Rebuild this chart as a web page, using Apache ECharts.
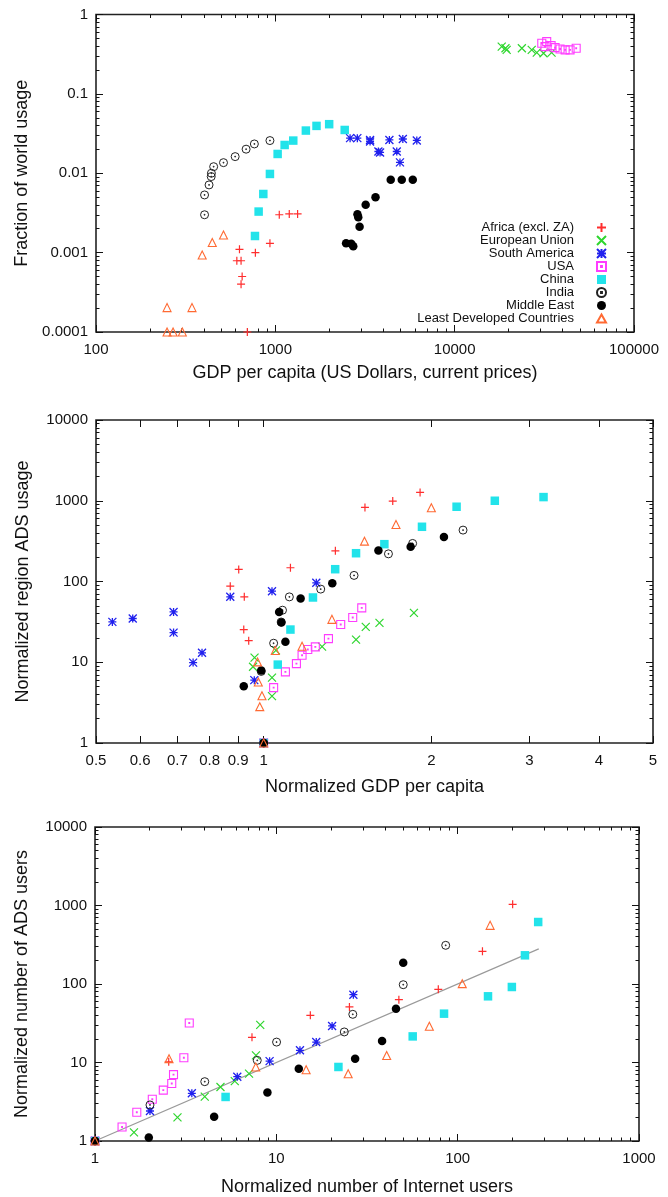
<!DOCTYPE html>
<html>
<head>
<meta charset="utf-8">
<script src="https://cdn.jsdelivr.net/npm/echarts@6/dist/echarts.min.js"></script>
<style>
  html, body { margin: 0; padding: 0; background: #fff; }
  #chart { width: 668px; height: 1197px; }
</style>
</head>
<body>
<div id="chart"></div>
<script>
// ---- panel 1: GDP per capita vs fraction of world usage ----
const p1Africa = [[631, 0.0011], [610, 0.00079], [644, 0.00079], [653, 0.0005], [644, 0.0004], [774, 0.001], [933, 0.00131], [1052, 0.003], [1196, 0.00307], [1331, 0.00307], [698, 0.0001]];
const p1EU = [[18300, 0.394], [19200, 0.376], [19500, 0.358], [23700, 0.376], [26900, 0.358], [28700, 0.331], [31300, 0.325], [34700, 0.331]];
const p1SA = [[2611, 0.0277], [2866, 0.0277], [3375, 0.0263], [3375, 0.0251], [3756, 0.0188], [3837, 0.0183], [4325, 0.0263], [4755, 0.0188], [4955, 0.0137], [5140, 0.027], [6150, 0.0259]];
const p1USA = [[30600, 0.434], [31900, 0.394], [32600, 0.455], [34500, 0.405], [36300, 0.382], [38700, 0.368], [41300, 0.358], [44000, 0.358], [47600, 0.375]];
const p1China = [[770, 0.00162], [807, 0.00329], [857, 0.00548], [933, 0.0098], [1030, 0.0175], [1127, 0.0227], [1259, 0.0258], [1480, 0.0345], [1697, 0.0395], [1996, 0.0415], [2437, 0.0351]];
const p1India = [[403, 0.003], [403, 0.00533], [427, 0.00713], [439, 0.00908], [440, 0.01], [453, 0.0121], [514, 0.0136], [597, 0.0162], [687, 0.0201], [764, 0.0234], [933, 0.0258]];
const p1ME = [[2480, 0.00131], [2650, 0.00129], [2720, 0.0012], [2870, 0.00305], [2900, 0.0028], [2950, 0.00212], [3190, 0.004], [3620, 0.005], [4400, 0.0083], [5070, 0.0083], [5840, 0.0083]];
const p1LDC = [[249, 0.000203], [343, 0.000203], [249, 0.0001], [269, 0.0001], [303, 0.0001], [391, 0.000935], [445, 0.00134], [514, 0.00167]];

// ---- panel 2: normalized GDP per capita vs normalized ADS usage ----
const p2Africa = [[1, 1], [0.902, 141], [0.871, 87.5], [0.923, 64.6], [0.921, 25.4], [0.94, 18.5], [1.117, 148], [1.345, 240], [1.52, 826], [1.705, 991], [1.909, 1268]];
const p2EU = [[1, 1], [0.963, 11.4], [0.957, 8.8], [1.035, 6.45], [1.035, 3.8], [1.052, 14], [1.273, 15.6], [1.465, 19.1], [1.525, 27.4], [1.614, 30.7], [1.861, 40.9]];
const p2SA = [[1, 1], [0.535, 31.6], [0.582, 34.8], [0.689, 42], [0.689, 23.3], [0.747, 9.9], [0.775, 13.1], [0.871, 64.6], [0.962, 6.0], [1.035, 75.9], [1.243, 96.3]];
const p2USA = [[1, 1], [1.042, 4.85], [1.094, 7.59], [1.145, 9.62], [1.172, 12.2], [1.2, 14.4], [1.238, 15.5], [1.307, 19.6], [1.375, 29.3], [1.445, 35.8], [1.5, 47.2]];
const p2China = [[1, 1], [1.06, 9.35], [1.117, 25.4], [1.226, 63.4], [1.344, 142], [1.465, 224], [1.647, 290], [1.924, 476], [2.22, 843], [2.6, 1000], [3.18, 1110]];
const p2India = [[1, 1], [0.99, 7.7], [1.042, 17.2], [1.075, 31.5], [1.081, 44.1], [1.112, 64.5], [1.266, 80.5], [1.453, 119], [1.675, 220], [1.851, 296], [2.28, 433]];
const p2ME = [[1, 1], [0.921, 5.04], [0.99, 7.9], [1.066, 41.8], [1.076, 31], [1.094, 17.9], [1.165, 61.6], [1.328, 95], [1.607, 242], [1.836, 269], [2.107, 355]];
const p2LDC = [[1, 1], [0.975, 10.1], [0.978, 5.7], [0.993, 3.85], [0.984, 2.82], [1.049, 14], [1.172, 15.8], [1.326, 34], [1.517, 316], [1.728, 509], [2.0, 819]];

// ---- panel 3: normalized internet users vs normalized ADS users ----
const p3Africa = [[1, 1], [2.55, 10.2], [7.34, 20.9], [15.4, 39.9], [25.3, 51], [47.4, 63.1], [78.2, 85.5], [137, 261], [201, 1035]];
const p3EU = [[1, 1], [1.64, 1.29], [2.85, 2.0], [4.03, 3.68], [4.92, 4.87], [5.9, 5.8], [7.07, 7.2], [7.72, 12.3], [8.15, 30.2]];
const p3SA = [[1, 1], [2.01, 2.41], [3.42, 4.05], [6.09, 6.6], [9.18, 10.4], [13.5, 14.3], [16.6, 18.2], [20.3, 29.2], [26.6, 73.1]];
const p3USA = [[1, 1], [1.41, 1.51], [1.7, 2.32], [2.07, 3.4], [2.38, 4.45], [2.65, 5.4], [2.71, 7.0], [3.09, 11.5], [3.31, 31.9]];
const p3China = [[1, 1], [5.25, 3.64], [22, 8.77], [56.5, 21.5], [84.1, 41.9], [147, 69.7], [199, 91.6], [235, 232], [278, 616]];
const p3India = [[1, 1], [2.01, 2.88], [4.03, 5.7], [7.85, 10.65], [10.03, 18.2], [23.7, 24.5], [26.4, 41.1], [50.1, 98], [85.9, 311]];
const p3ME = [[1, 1], [1.98, 1.11], [4.54, 2.04], [8.93, 4.15], [13.3, 8.35], [27.2, 11.2], [38.3, 18.8], [45.7, 48.5], [50.1, 187]];
const p3LDC = [[1, 1], [2.56, 11.2], [7.7, 8.77], [14.6, 8.1], [24.9, 7.2], [40.6, 12.3], [69.8, 28.9], [106, 101], [151, 559]];
const p3Fit = [[1, 1], [280, 280]];

// ---- tick labels ----
const p1XTicks = [100, 1000, 10000, 100000];
const p1YTicks = [0.0001, 0.001, 0.01, 0.1, 1];
const p2XTicks = [0.5, 0.6, 0.7, 0.8, 0.9, 1, 2, 3, 4, 5];
const p2YTicks = [1, 10, 100, 1000, 10000];
const p3XTicks = [1, 10, 100, 1000];
const p3YTicks = [1, 10, 100, 1000, 10000];

const regionNames = ['Africa (excl. ZA)', 'European Union', 'South America', 'USA', 'China', 'India', 'Middle East', 'Least Developed Countries'];

const FONT = '"Liberation Sans", Arial, Helvetica, sans-serif';
const NONE = 'rgba(0,0,0,0)';

// gnuplot-like point types
const marks = [
  { symbol: 'path://M0,5L10,5M5,0L5,10', size: 8, fill: NONE, stroke: '#ff2e2e', bw: 1.2 },
  { symbol: 'path://M0,0L10,10M10,0L0,10', size: 8, fill: NONE, stroke: '#2ed62e', bw: 1.2 },
  { symbol: 'path://M0,0L10,10M10,0L0,10M5,0L5,10M0,5L10,5', size: 8, fill: NONE, stroke: '#2020ee', bw: 1.3 },
  { symbol: 'path://M0,0L10,0L10,10L0,10ZM4.5,4.5L5.5,4.5L5.5,5.5L4.5,5.5Z', size: 8, fill: NONE, stroke: '#ff3cff', bw: 1.1 },
  { symbol: 'rect', size: 8.5, fill: '#22e3ea', stroke: NONE, bw: 0 },
  { symbol: 'path://M10,5A5,5,0,1,1,0,5A5,5,0,1,1,10,5ZM4.5,4.5L5.5,4.5L5.5,5.5L4.5,5.5Z', size: 8, fill: NONE, stroke: '#222', bw: 1 },
  { symbol: 'circle', size: 8.5, fill: '#000', stroke: NONE, bw: 0 },
  { symbol: 'path://M5,0L10,9L0,9Z', size: 8, fill: NONE, stroke: '#ff6a33', bw: 1.1 }
];

function minorTicks(lo, hi) {
  const out = [];
  for (let p = lo; p < hi; p++) {
    for (let m = 2; m <= 9; m++) out.push(Number((m * Math.pow(10, p)).toPrecision(2)));
  }
  return out;
}

const xAxes = [];
const yAxes = [];
const tickLine = { color: '#111', width: 1 };
const labelStyle = { fontFamily: FONT, fontSize: 15, color: '#111' };
const nameStyle = { fontFamily: FONT, fontSize: 18, color: '#111' };

// builds main + mirrored + minor axes, returns index of main axis
function addAxes(list, dim, gridIndex, min, max, ticks, minor, name, nameGap) {
  const pos = dim === 'x' ? ['bottom', 'top'] : ['left', 'right'];
  const base = { type: 'log', logBase: 10, gridIndex, min, max, splitLine: { show: false }, axisLine: { show: false } };
  const mainIndex = list.length;
  list.push(Object.assign({}, base, {
    position: pos[0],
    name, nameLocation: 'middle', nameGap,
    nameRotate: dim === 'y' ? 90 : 0,
    nameTextStyle: nameStyle,
    axisLabel: { customValues: ticks, formatter: (v) => String(v), margin: dim === 'x' ? 10 : 8, ...labelStyle },
    axisTick: { customValues: ticks, inside: true, length: 7, lineStyle: tickLine }
  }));
  list.push(Object.assign({}, base, {
    position: pos[1],
    axisLabel: { show: false },
    axisTick: { customValues: ticks, inside: true, length: 7, lineStyle: tickLine }
  }));
  if (minor.length) {
    pos.forEach((p) => {
      list.push(Object.assign({}, base, {
        position: p,
        axisLabel: { show: false },
        axisTick: { customValues: minor, inside: true, length: 3.5, lineStyle: tickLine }
      }));
    });
  }
  return mainIndex;
}

const grids = [
  { left: 96, top: 14.5, width: 538, height: 317.5 },
  { left: 96, top: 420, width: 557, height: 323 },
  { left: 95, top: 827, width: 544, height: 314 }
].map((g) => Object.assign({ show: true, borderColor: '#222', borderWidth: 1.6, backgroundColor: NONE }, g));

const ax = [
  {
    x: addAxes(xAxes, 'x', 0, 100, 100000, p1XTicks, minorTicks(2, 5), 'GDP per capita (US Dollars, current prices)', 32),
    y: addAxes(yAxes, 'y', 0, 0.0001, 1, p1YTicks, minorTicks(-4, 0), 'Fraction of world usage', 64)
  },
  {
    x: addAxes(xAxes, 'x', 1, 0.5, 5, p2XTicks, [], 'Normalized GDP per capita', 35),
    y: addAxes(yAxes, 'y', 1, 1, 10000, p2YTicks, minorTicks(0, 4), 'Normalized region ADS usage', 64)
  },
  {
    x: addAxes(xAxes, 'x', 2, 1, 1000, p3XTicks, minorTicks(0, 3), 'Normalized number of Internet users', 37),
    y: addAxes(yAxes, 'y', 2, 1, 10000, p3YTicks, minorTicks(0, 4), 'Normalized number of ADS users', 64)
  }
];

const panelData = [
  [p1Africa, p1EU, p1SA, p1USA, p1China, p1India, p1ME, p1LDC],
  [p2Africa, p2EU, p2SA, p2USA, p2China, p2India, p2ME, p2LDC],
  [p3Africa, p3EU, p3SA, p3USA, p3China, p3India, p3ME, p3LDC]
];

const series = [{
  type: 'line',
  xAxisIndex: ax[2].x,
  yAxisIndex: ax[2].y,
  data: p3Fit,
  symbol: 'none',
  silent: true,
  lineStyle: { color: '#9a9a9a', width: 1.2 },
  z: 1
}];

panelData.forEach((sets, pi) => {
  sets.forEach((data, si) => {
    const m = marks[si];
    series.push({
      name: regionNames[si],
      type: 'scatter',
      xAxisIndex: ax[pi].x,
      yAxisIndex: ax[pi].y,
      data,
      clip: false,
      symbol: m.symbol,
      symbolSize: m.size,
      itemStyle: { color: m.fill, borderColor: m.stroke, borderWidth: m.bw, opacity: 1 },
      emphasis: { disabled: true },
      z: 2 + si
    });
  });
});

const chart = echarts.init(document.getElementById('chart'), null, { renderer: 'canvas' });
chart.setOption({
  backgroundColor: '#fff',
  animation: false,
  textStyle: { fontFamily: FONT },
  grid: grids,
  xAxis: xAxes,
  yAxis: yAxes,
  legend: {
    data: regionNames,
    orient: 'vertical',
    align: 'right',
    right: 61,
    top: 221,
    padding: 0,
    itemWidth: 9,
    itemHeight: 9,
    itemGap: 0,
    selectedMode: false,
    textStyle: { fontFamily: FONT, fontSize: 13, color: '#111', lineHeight: 13, padding: [0, 18, 0, 0] }
  },
  series
});
</script>
</body>
</html>
